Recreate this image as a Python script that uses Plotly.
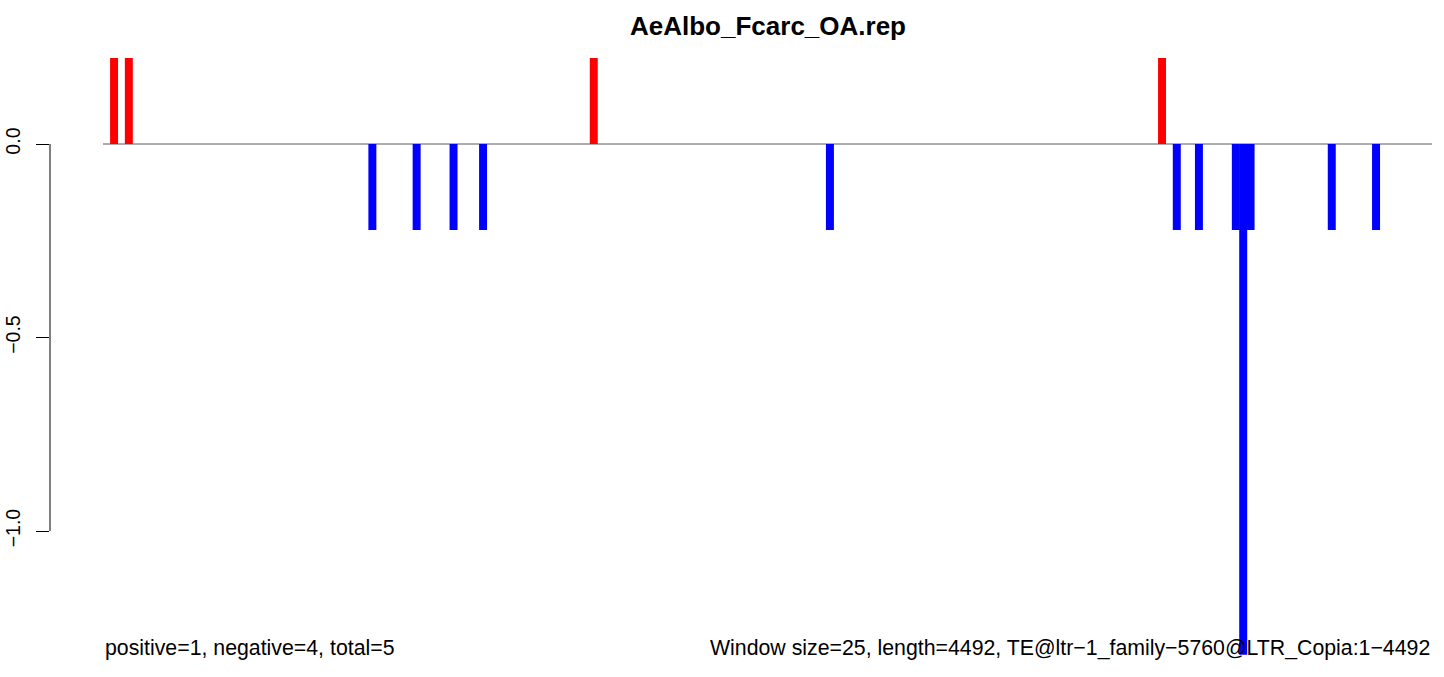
import plotly.graph_objects as go

# ---- data ----
window_size = 25
seq_length = 4492
windows = [1, 3, 36, 42, 47, 51, 66, 98, 143, 145, 148, 153, 154, 155, 166, 172]
values = [0.222, 0.222, -0.222, -0.222, -0.222, -0.222, 0.222, -0.222,
          0.222, -0.222, -0.222, -0.222, -1.32, -0.222, -0.222, -0.222]
y_tickvals = [0, -0.5, -1.0]
y_ticktext = ["0.0", "\u22120.5", "\u22121.0"]
title_text = "AeAlbo_Fcarc_OA.rep"
left_note = "positive=1, negative=4, total=5"
right_note = ("Window size=25, length=4492, TE@ltr\u22121_family\u22125760@LTR_Copia:1\u22124492")

# window centers in bp
x_pos = [(w + 0.5) * window_size for w in windows]
colors = ["#FF0000" if v > 0 else "#0000FF" for v in values]

W, H = 1444, 677
L, R, T, B = 50, 12, 40, 18
plot_w = W - L - R
plot_h = H - T - B

px_per_bp = 0.2952
x_left = -(103 - L) / px_per_bp
x_right = (W - R - 103) / px_per_bp

px_per_unit = 387.0
y_top = (144 - T) / px_per_unit
y_bot = y_top - plot_h / px_per_unit

font_family = "Liberation Sans, Arial, Helvetica, sans-serif"

fig = go.Figure()
fig.add_trace(go.Bar(
    x=x_pos, y=values, width=27,
    marker=dict(color=colors, line=dict(width=0)),
    showlegend=False, hoverinfo="x+y",
))

# zero line
fig.add_shape(type="line", xref="x", yref="y", x0=0, x1=x_right, y0=0, y1=0,
              line=dict(color="#5a5a5a", width=1), layer="below")
# y-axis spine (only between ticks, R-style)
fig.add_shape(type="line", xref="paper", yref="y", x0=0, x1=0, y0=-1.0, y1=0,
              line=dict(color="black", width=1))

text_y = (H - B - 648) / plot_h

fig.update_layout(
    width=W, height=H,
    margin=dict(l=L, r=R, t=T, b=B, pad=0, autoexpand=False),
    plot_bgcolor="white", paper_bgcolor="white",
    barmode="overlay",
    title=dict(text=title_text, x=768 / W, xanchor="center", xref="container",
               y=1 - 26 / H, yanchor="middle",
               font=dict(family=font_family, size=26, color="black", weight="bold")),
    xaxis=dict(range=[x_left, x_right], visible=False, fixedrange=True),
    yaxis=dict(range=[y_bot, y_top], tickvals=y_tickvals, ticktext=y_ticktext,
               tickangle=-90, ticks="outside", ticklen=13, tickwidth=1, tickcolor="black",
               showgrid=False, zeroline=False, showline=False, automargin=False,
               ticklabelstandoff=8,
               tickfont=dict(family=font_family, size=19.5, color="black")),
    annotations=[
        dict(text=left_note, xref="paper", yref="paper", x=(103 - L) / plot_w,
             y=text_y, xanchor="left", yanchor="middle", showarrow=False,
             font=dict(family=font_family, size=21.3, color="black")),
        dict(text=right_note, xref="paper", yref="paper", x=1.0,
             y=text_y, xanchor="right", yanchor="middle", showarrow=False,
             font=dict(family=font_family, size=21.3, color="black")),
    ],
)

fig.write_html("out.html", config={"displayModeBar": False},
               post_script="document.body.style.margin='0';document.body.style.overflow='hidden';")
